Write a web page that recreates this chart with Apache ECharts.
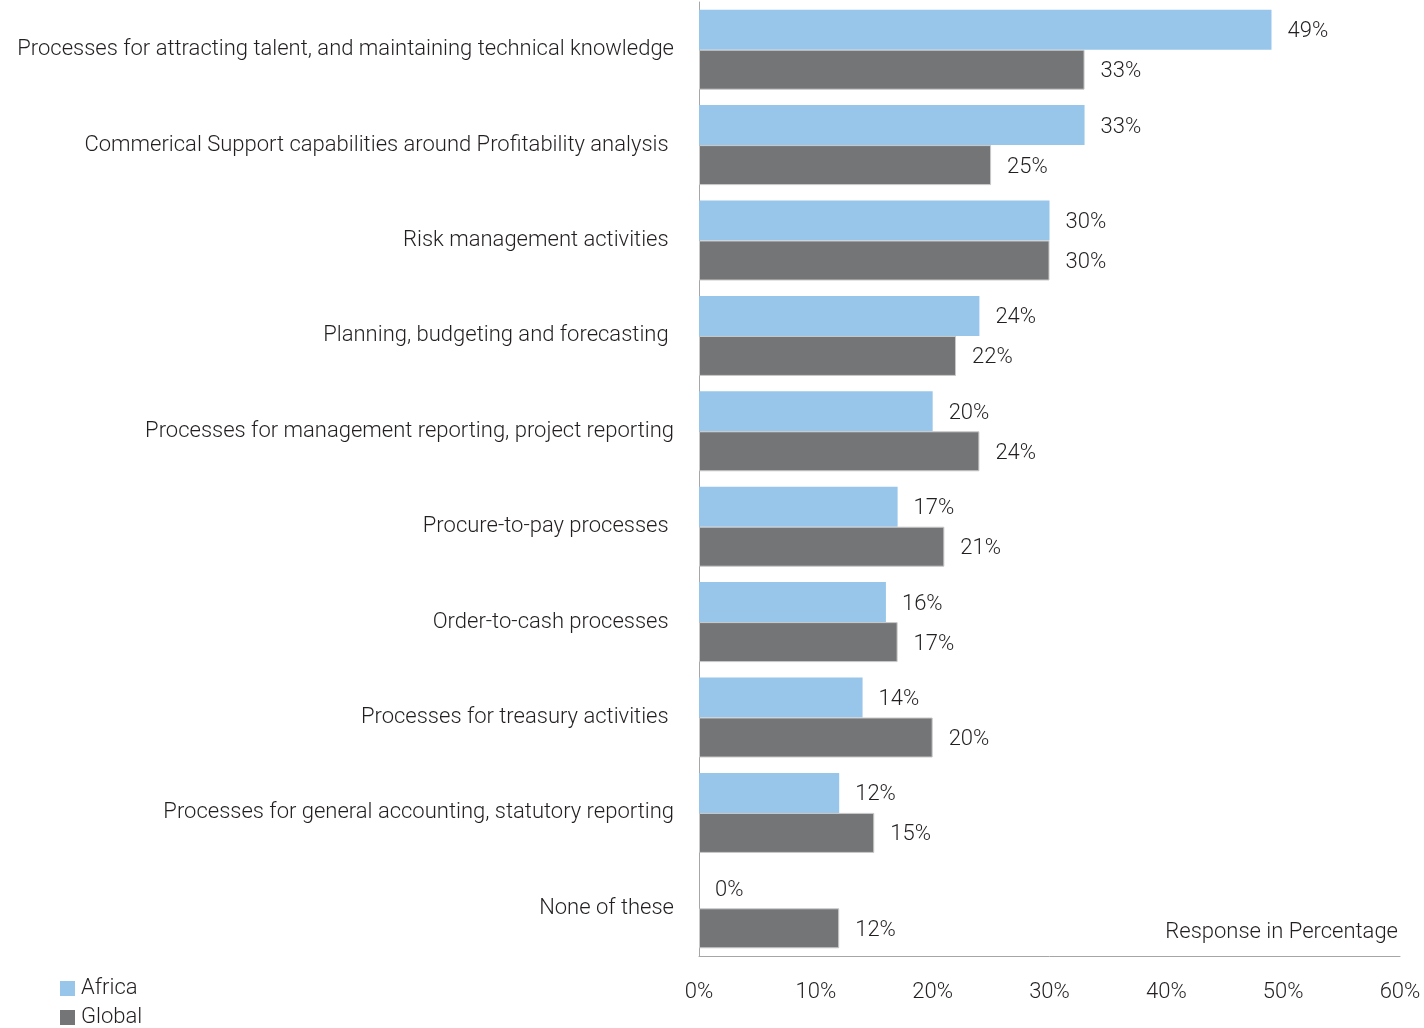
<!DOCTYPE html>
<html>
<head>
<meta charset="utf-8">
<script src="https://cdn.jsdelivr.net/npm/echarts@6/dist/echarts.min.js"></script>
<style>
  html, body { margin: 0; padding: 0; background: #fff; }
  #chart { width: 1424px; height: 1028px; }
</style>
</head>
<body>
<div id="chart"></div>
<script>
// Finance capability areas (top to bottom)
const categories = [
  'Processes for attracting talent, and maintaining technical knowledge',
  'Commerical Support capabilities around Profitability analysis ',
  'Risk management activities ',
  'Planning, budgeting and forecasting ',
  'Processes for management reporting, project reporting',
  'Procure-to-pay processes ',
  'Order-to-cash processes ',
  'Processes for treasury activities ',
  'Processes for general accounting, statutory reporting',
  'None of these'
];
const africa = [49, 33, 30, 24, 20, 17, 16, 14, 12, 0];
const global = [33, 25, 30, 22, 24, 21, 17, 20, 15, 12];
const xTicks = { min: 0, max: 60, interval: 10 };

const FONT = 'Roboto, "Noto Sans", sans-serif';
const FS = 22;
const WEIGHT = 300;
const TEXT = '#231f20';

const chart = echarts.init(document.getElementById('chart'), null, { renderer: 'canvas' });

const barLabel = {
  show: true,
  position: 'right',
  distance: 16,
  offset: [0, 2],
  color: TEXT,
  fontFamily: FONT,
  fontWeight: WEIGHT,
  fontSize: FS,
  formatter: p => p.value + '%'
};

const legendText = { color: TEXT, fontFamily: FONT, fontWeight: WEIGHT, fontSize: FS, lineHeight: 23, padding: [2, 0, 0, 1] };

chart.setOption({
  animation: false,
  backgroundColor: '#ffffff',
  grid: { left: 699, right: 24, top: 2, bottom: 72, containLabel: false, outerBoundsMode: 'none' },
  legend: [
    {
      left: 60, top: 976, padding: 0, itemWidth: 15, itemHeight: 15, icon: 'rect',
      itemStyle: { borderWidth: 0 },
      textStyle: legendText, data: ['Africa']
    },
    {
      left: 60, top: 1005, padding: 0, itemWidth: 15, itemHeight: 15, icon: 'rect',
      itemStyle: { borderWidth: 0 },
      textStyle: legendText, data: ['Global']
    }
  ],
  xAxis: {
    type: 'value',
    min: xTicks.min,
    max: xTicks.max,
    interval: xTicks.interval,
    axisLine: { show: true, lineStyle: { color: '#a6a6a6', width: 1 } },
    axisTick: { show: false },
    splitLine: { show: false },
    axisLabel: {
      color: TEXT, fontFamily: FONT, fontWeight: WEIGHT, fontSize: FS, margin: 25,
      formatter: v => v + '%'
    }
  },
  yAxis: {
    type: 'category',
    data: categories,
    inverse: true,
    axisLine: { show: true, lineStyle: { color: '#a6a6a6', width: 1 } },
    axisTick: { show: false },
    splitLine: { show: false },
    axisLabel: { color: TEXT, fontFamily: FONT, fontWeight: WEIGHT, fontSize: FS, margin: 25, padding: [7, 0, 0, 0] }
  },
  graphic: [{
    type: 'text',
    right: 26,
    top: 921,
    style: { text: 'Response in Percentage', fill: TEXT, font: WEIGHT + ' ' + FS + 'px ' + FONT }
  }],
  series: [
    {
      name: 'Africa',
      type: 'bar',
      data: africa,
      barWidth: 40,
      barGap: '0%',
      itemStyle: { color: '#97c6ea', borderWidth: 0 },
      label: barLabel
    },
    {
      name: 'Global',
      type: 'bar',
      data: global,
      barWidth: 40,
      barGap: '0%',
      itemStyle: { color: '#747577', borderColor: '#c9c9c9', borderWidth: 1 },
      label: barLabel
    }
  ]
});
</script>
</body>
</html>
